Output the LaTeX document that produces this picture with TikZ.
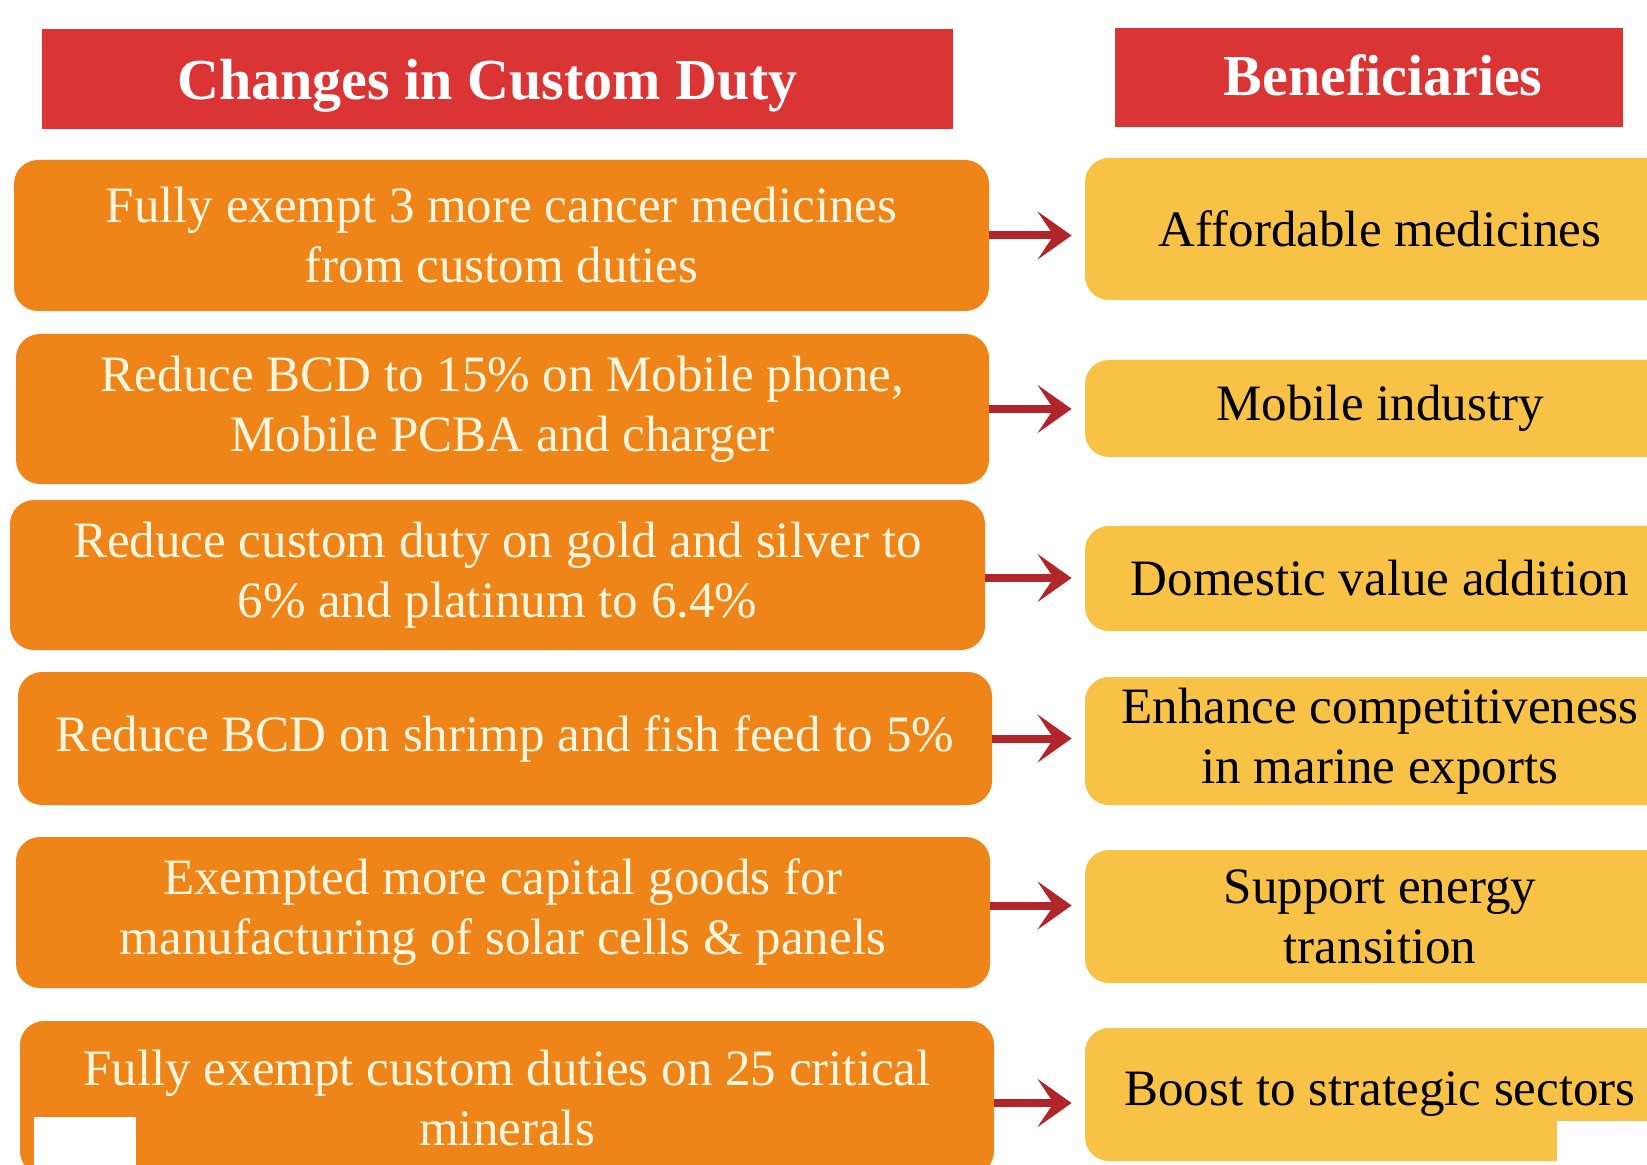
\documentclass[tikz,border=0pt]{standalone}
\usepackage{fontspec}
\setmainfont{Liberation Serif}
\usetikzlibrary{arrows.meta}
\definecolor{hdrred}{HTML}{DB3434}
\definecolor{boxorange}{HTML}{EF8518}
\definecolor{boxyellow}{HTML}{F7C246}
\definecolor{arrred}{HTML}{B0262B}
\definecolor{cream}{HTML}{FFF6E0}
\tikzset{
  hdr/.style={fill=hdrred, inner sep=0pt},
  hdrtext/.style={text=white, font=\fontsize{29}{34}\selectfont\bfseries, inner sep=0pt},
  change/.style={fill=boxorange, text=cream, rounded corners=12pt, align=center,
    font=\fontsize{25.5}{30}\selectfont, inner sep=0pt},
  benefit/.style={fill=boxyellow, text=black, rounded corners=12pt, align=center,
    font=\fontsize{25.5}{30}\selectfont, inner sep=0pt},
  conn/.style={draw=arrred, line width=4pt, shorten >=6.5pt,
    -{Stealth[length=17pt, width=24pt, inset=8pt]}},
  patch/.style={fill=white, draw=none}
}
\begin{document}
\begin{tikzpicture}[x=0.5pt, y=-0.5pt]
\useasboundingbox (0,0) rectangle (1647,1165);
\clip (0,0) rectangle (1647,1165);
\fill[white] (0,0) rectangle (1647,1165);

% headers
\node[hdr, minimum width=455.5pt, minimum height=50pt] (h1) at (497.5,79) {};
\node[hdrtext] (h1t) at ([xshift=-5pt, yshift=-3.5pt]h1.center) {Changes in Custom Duty};
\node[hdr, minimum width=254pt, minimum height=49.5pt] (h2) at (1369,77.5) {};
\node[hdrtext] (h2t) at ([xshift=7pt, yshift=1pt]h2.center) {Beneficiaries};

% left column
\node[change, minimum width=487.5pt, minimum height=75.5pt] (o1) at (501.5,235.5)
  {Fully exempt 3 more cancer medicines\\from custom duties};
\node[change, minimum width=486.5pt, minimum height=75pt] (o2) at (502.5,409)
  {Reduce BCD to 15\% on Mobile phone,\\Mobile PCBA and charger};
\node[change, minimum width=487.5pt, minimum height=75pt] (o3) at (497.5,575)
  {Reduce custom duty on gold and silver to\\6\% and platinum to 6.4\%};
\node[change, minimum width=487pt, minimum height=66.5pt] (o4) at (505,738.5)
  {Reduce BCD on shrimp and fish feed to 5\%};
\node[change, minimum width=487pt, minimum height=75.5pt] (o5) at (503,912.5)
  {Exempted more capital goods for\\manufacturing of solar cells \& panels};
\node[change, minimum width=487pt, minimum height=77pt] (o6) at (507,1098)
  {Fully exempt custom duties on 25 critical\\minerals};

% right column
\node[benefit, minimum width=295pt, minimum height=71pt] (y1) at (1380,229)
  {Affordable medicines};
\node[benefit, minimum width=295pt, minimum height=48.5pt] (y2) at (1380,408.5)
  {Mobile industry};
\node[benefit, minimum width=295pt, minimum height=52.5pt] (y3) at (1380,578.5)
  {Domestic value addition};
\node[benefit, minimum width=295pt, minimum height=64pt] (y4) at (1380,741)
  {Enhance competitiveness\\in marine exports};
\node[benefit, minimum width=295pt, minimum height=66.5pt] (y5) at (1380,916.5)
  {Support energy\\transition};
\node[benefit, minimum width=295pt, minimum height=66.5pt] (y6) at (1380,1094.5)
  {Boost to strategic sectors};

% connectors
\draw[conn] (o1.east) -- (o1.east -| y1.west);
\draw[conn] (o2.east) -- (o2.east -| y2.west);
\draw[conn] ([yshift=-1.5pt]o3.east) -- ([yshift=-1.5pt]o3.east -| y3.west);
\draw[conn] (o4.east) -- (o4.east -| y4.west);
\draw[conn] ([yshift=3.5pt]o5.east) -- ([yshift=3.5pt]o5.east -| y5.west);
\draw[conn] ([yshift=-2.5pt]o6.east) -- ([yshift=-2.5pt]o6.east -| y6.west);

% white patches
\path[patch] (34,1117) rectangle (136,1165);
\path[patch] (1557,1121) rectangle (1647,1165);
\end{tikzpicture}
\end{document}
